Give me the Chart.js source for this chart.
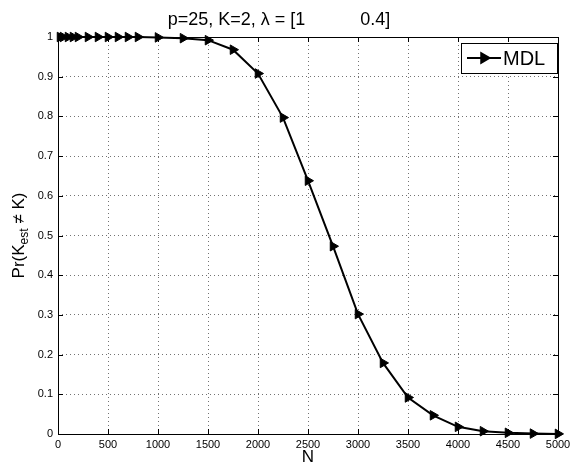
<!DOCTYPE html>
<html>
<head>
<meta charset="utf-8">
<script src="https://cdn.jsdelivr.net/npm/chart.js@4/dist/chart.umd.min.js"></script>
<style>
  html, body { margin: 0; padding: 0; background: #fff; }
  #wrap { width: 575px; height: 466px; }
</style>
</head>
<body>
<div id="wrap"><canvas id="chart" width="575" height="466"></canvas></div>
<script>
// sample sizes N and the probability of a wrong estimate of K
const nValues = [20, 50, 100, 150, 200, 300, 400, 500, 600, 700, 800,
  1000, 1250, 1500, 1750, 2000, 2250, 2500, 2750, 3000, 3250, 3500, 3750,
  4000, 4250, 4500, 4750, 5000];
const mdlError = [1, 1, 1, 1, 1, 1, 1, 1, 1, 1, 1,
  0.999, 0.997, 0.992, 0.968, 0.908, 0.797, 0.638, 0.473, 0.302, 0.179, 0.092, 0.047,
  0.018, 0.007, 0.003, 0.001, 0.0003];
const xTicks = [0, 500, 1000, 1500, 2000, 2500, 3000, 3500, 4000, 4500, 5000];
const yTicks = [0, 0.1, 0.2, 0.3, 0.4, 0.5, 0.6, 0.7, 0.8, 0.9, 1];

const FONT = "'Liberation Sans', Arial, sans-serif";

// box round the axes plus inward tick marks, matlab style
const axesBox = {
  id: 'axesBox',
  afterDraw(chart) {
    const { ctx, chartArea: a, scales } = chart;
    ctx.save();
    ctx.strokeStyle = '#000';
    ctx.lineWidth = 1;
    ctx.strokeRect(a.left + 0.5, a.top + 0.5, a.right - a.left, a.bottom - a.top);
    ctx.beginPath();
    xTicks.forEach(v => {
      const x = Math.round(scales.x.getPixelForValue(v)) + 0.5;
      ctx.moveTo(x, a.bottom); ctx.lineTo(x, a.bottom - 5);
      ctx.moveTo(x, a.top); ctx.lineTo(x, a.top + 5);
    });
    yTicks.forEach(v => {
      const y = Math.round(scales.y.getPixelForValue(v)) + 0.5;
      ctx.moveTo(a.left, y); ctx.lineTo(a.left + 5, y);
      ctx.moveTo(a.right, y); ctx.lineTo(a.right - 5, y);
    });
    ctx.stroke();
    ctx.restore();
  }
};

// y label with a subscript, and the legend box inside the axes
const labels = {
  id: 'labels',
  afterDraw(chart) {
    const { ctx, chartArea: a } = chart;
    ctx.save();
    ctx.fillStyle = '#000';
    const big = '17px ' + FONT, small = '12px ' + FONT;
    ctx.font = big;
    const w1 = ctx.measureText('Pr(K').width;
    const w3 = ctx.measureText(' \u2260 K)').width;
    ctx.font = small;
    const w2 = ctx.measureText('est').width;
    const total = w1 + w2 + w3;
    ctx.translate(24, (a.top + a.bottom) / 2);
    ctx.rotate(-Math.PI / 2);
    ctx.textBaseline = 'alphabetic';
    ctx.textAlign = 'left';
    let x0 = -total / 2;
    ctx.font = big; ctx.fillText('Pr(K', x0, 0);
    ctx.font = small; ctx.fillText('est', x0 + w1, 4);
    ctx.font = big; ctx.fillText(' \u2260 K)', x0 + w1 + w2, 0);
    ctx.restore();

    // legend
    ctx.save();
    const lx = 461, ly = 43, lw = 96, lh = 30;
    ctx.fillStyle = '#fff';
    ctx.fillRect(lx, ly, lw, lh);
    ctx.strokeStyle = '#000';
    ctx.lineWidth = 1;
    ctx.strokeRect(lx + 0.5, ly + 0.5, lw, lh);
    const my = ly + lh / 2;
    ctx.lineWidth = 2;
    ctx.beginPath();
    ctx.moveTo(lx + 6, my); ctx.lineTo(lx + 40, my);
    ctx.stroke();
    ctx.fillStyle = '#000';
    Chart.helpers.drawPoint(ctx, { pointStyle: 'triangle', rotation: 90, radius: 5.5, borderWidth: 1 }, lx + 23, my);
    ctx.font = '20px ' + FONT;
    ctx.textBaseline = 'middle';
    ctx.fillText('MDL', lx + 42, my + 1);
    ctx.restore();
  }
};

new Chart(document.getElementById('chart'), {
  type: 'line',
  data: {
    datasets: [{
      label: 'MDL',
      data: nValues.map((n, i) => ({ x: n, y: mdlError[i] })),
      borderColor: '#000',
      backgroundColor: '#000',
      borderWidth: 2,
      pointStyle: 'triangle',
      rotation: 90,
      pointRadius: 5.5,
      pointBorderWidth: 1,
      tension: 0,
      clip: false
    }]
  },
  options: {
    responsive: false,
    animation: false,
    layout: { padding: { left: 0, right: 17, top: 0, bottom: 0 } },
    plugins: {
      legend: { display: false },
      tooltip: { enabled: false },
      title: {
        display: true,
        text: 'p=25, K=2, \u03bb = [1           0.4]',
        color: '#000',
        font: { family: FONT, size: 18, weight: 'normal' },
        padding: { top: 9.5, bottom: 5.9 }
      }
    },
    scales: {
      x: {
        type: 'linear',
        min: 0, max: 5000,
        afterBuildTicks: s => { s.ticks = xTicks.map(v => ({ value: v })); },
        afterFit: s => { s.height = 32; },
        ticks: {
          color: '#000', padding: 4, maxRotation: 0,
          font: { family: FONT, size: 11 },
          callback: v => String(v)
        },
        grid: { color: 'rgba(0,0,0,0.55)', drawTicks: false },
        border: { display: false, dash: [1, 3] },
        title: {
          display: true, text: 'N', color: '#000',
          font: { family: FONT, size: 17 },
          padding: { top: 0, bottom: -2 }
        }
      },
      y: {
        min: 0, max: 1,
        afterBuildTicks: s => { s.ticks = yTicks.map(v => ({ value: v })); },
        afterFit: s => { s.width = 58; },
        ticks: {
          color: '#000', padding: 5,
          font: { family: FONT, size: 11 },
          callback: v => (v === 0 ? '0' : v === 1 ? '1' : v.toFixed(1))
        },
        grid: { color: 'rgba(0,0,0,0.55)', drawTicks: false },
        border: { display: false, dash: [1, 3] }
      }
    }
  },
  plugins: [axesBox, labels]
});
</script>
</body>
</html>
